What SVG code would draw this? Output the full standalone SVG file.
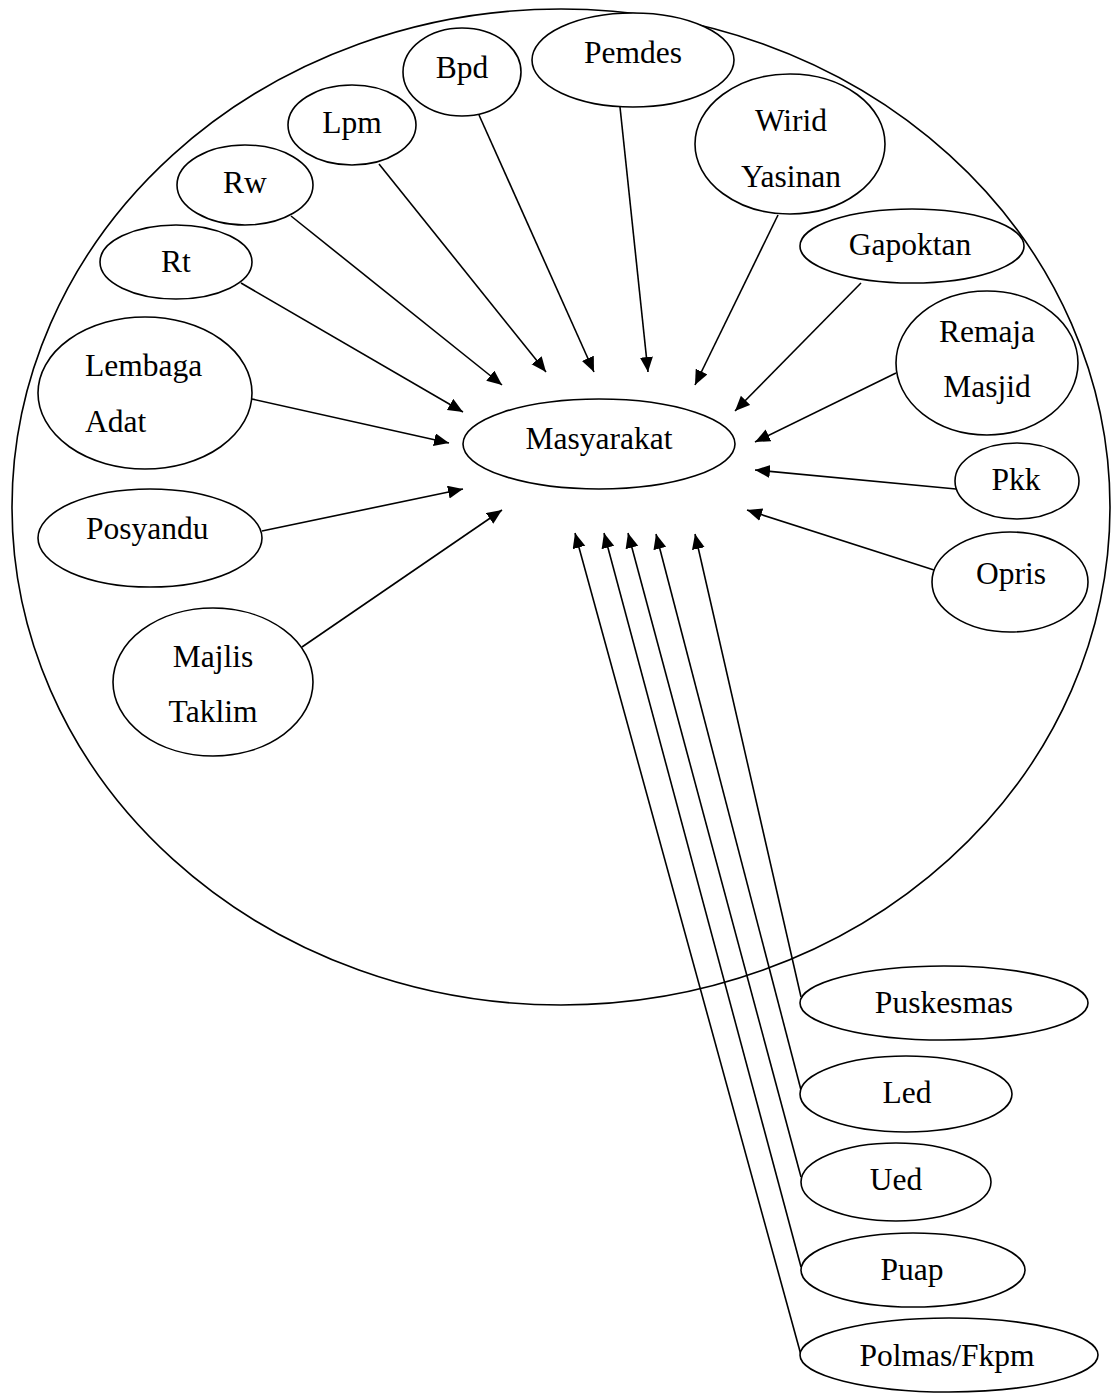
<svg xmlns="http://www.w3.org/2000/svg" width="1116" height="1393" viewBox="0 0 1116 1393">
<style>
.s{fill:none;stroke:#000;stroke-width:1.6}
.n{fill:#fff;stroke:#000;stroke-width:1.6}
.c line{stroke:#000;stroke-width:1.6;marker-end:url(#ah)}
text{font-family:"Liberation Serif","Times New Roman",serif;font-size:31.5px;fill:#000;text-anchor:middle}
.l{text-anchor:start}
</style>
<defs>
<marker id="ah" markerUnits="userSpaceOnUse" markerWidth="16" markerHeight="14" refX="15" refY="6.5" orient="auto">
<path d="M0,0 L15,6.5 L0,13 z" fill="#000"/>
</marker>
</defs>
<rect width="1116" height="1393" fill="#fff"/>
<ellipse id="boundary" class="s" cx="561" cy="507" rx="549" ry="498"/>
<g class="c" id="connectors">
<line x1="241" y1="283" x2="463" y2="412"/>
<line x1="291" y1="216" x2="502" y2="385"/>
<line x1="379" y1="164" x2="546" y2="372"/>
<line x1="479" y1="115" x2="594" y2="372"/>
<line x1="620" y1="107" x2="648" y2="372"/>
<line x1="778" y1="215" x2="695" y2="385"/>
<line x1="861" y1="283" x2="735" y2="411"/>
<line x1="896" y1="373" x2="755" y2="442"/>
<line x1="956" y1="489" x2="755" y2="470"/>
<line x1="934" y1="570" x2="747" y2="510"/>
<line x1="252" y1="399" x2="449" y2="443"/>
<line x1="262" y1="531" x2="463" y2="489"/>
<line x1="302" y1="647" x2="502" y2="510"/>
<line x1="801" y1="997" x2="695" y2="534"/>
<line x1="801" y1="1090" x2="656" y2="534"/>
<line x1="801" y1="1177" x2="628" y2="533"/>
<line x1="801" y1="1267" x2="604" y2="533"/>
<line x1="801" y1="1355" x2="575" y2="533"/>
</g>
<g id="masyarakat"><ellipse class="n" cx="599" cy="444" rx="136" ry="45"/><text x="599" y="449">Masyarakat</text></g>
<g id="rt"><ellipse class="n" cx="176" cy="262" rx="76" ry="37"/><text x="176" y="272">Rt</text></g>
<g id="rw"><ellipse class="n" cx="245" cy="185" rx="68" ry="40"/><text x="245" y="193">Rw</text></g>
<g id="lpm"><ellipse class="n" cx="352" cy="125" rx="64" ry="40"/><text x="352" y="133">Lpm</text></g>
<g id="bpd"><ellipse class="n" cx="462" cy="72" rx="59" ry="44"/><text x="462" y="78">Bpd</text></g>
<g id="pemdes"><ellipse class="n" cx="633" cy="60" rx="101" ry="47"/><text x="633" y="63">Pemdes</text></g>
<g id="wirid"><ellipse class="n" cx="790" cy="144" rx="95" ry="70"/><text x="791" y="131">Wirid</text><text x="791" y="187">Yasinan</text></g>
<g id="gapoktan"><ellipse class="n" cx="912" cy="246" rx="112" ry="37"/><text x="910" y="255">Gapoktan</text></g>
<g id="remaja"><ellipse class="n" cx="987" cy="363" rx="91" ry="72"/><text x="987" y="342">Remaja</text><text x="987" y="397">Masjid</text></g>
<g id="pkk"><ellipse class="n" cx="1017" cy="481" rx="62" ry="38"/><text x="1016" y="490">Pkk</text></g>
<g id="opris"><ellipse class="n" cx="1010" cy="582" rx="78" ry="50"/><text x="1011" y="584">Opris</text></g>
<g id="lembaga"><ellipse class="n" cx="145" cy="393" rx="107" ry="76"/><text class="l" x="85" y="376">Lembaga</text><text class="l" x="85" y="432">Adat</text></g>
<g id="posyandu"><ellipse class="n" cx="150" cy="538" rx="112" ry="49"/><text class="l" x="86" y="539">Posyandu</text></g>
<g id="majlis"><ellipse class="n" cx="213" cy="682" rx="100" ry="74"/><text x="213" y="667">Majlis</text><text x="213" y="722">Taklim</text></g>
<g id="puskesmas"><ellipse class="n" cx="944" cy="1003" rx="144" ry="37"/><text x="944" y="1013">Puskesmas</text></g>
<g id="led"><ellipse class="n" cx="906" cy="1094" rx="106" ry="38"/><text x="907" y="1103">Led</text></g>
<g id="ued"><ellipse class="n" cx="896" cy="1182" rx="95" ry="39"/><text x="896" y="1190">Ued</text></g>
<g id="puap"><ellipse class="n" cx="913" cy="1270" rx="112" ry="37"/><text x="912" y="1280">Puap</text></g>
<g id="polmas"><ellipse class="n" cx="949" cy="1355" rx="149" ry="37"/><text x="947" y="1366">Polmas/Fkpm</text></g>
</svg>
